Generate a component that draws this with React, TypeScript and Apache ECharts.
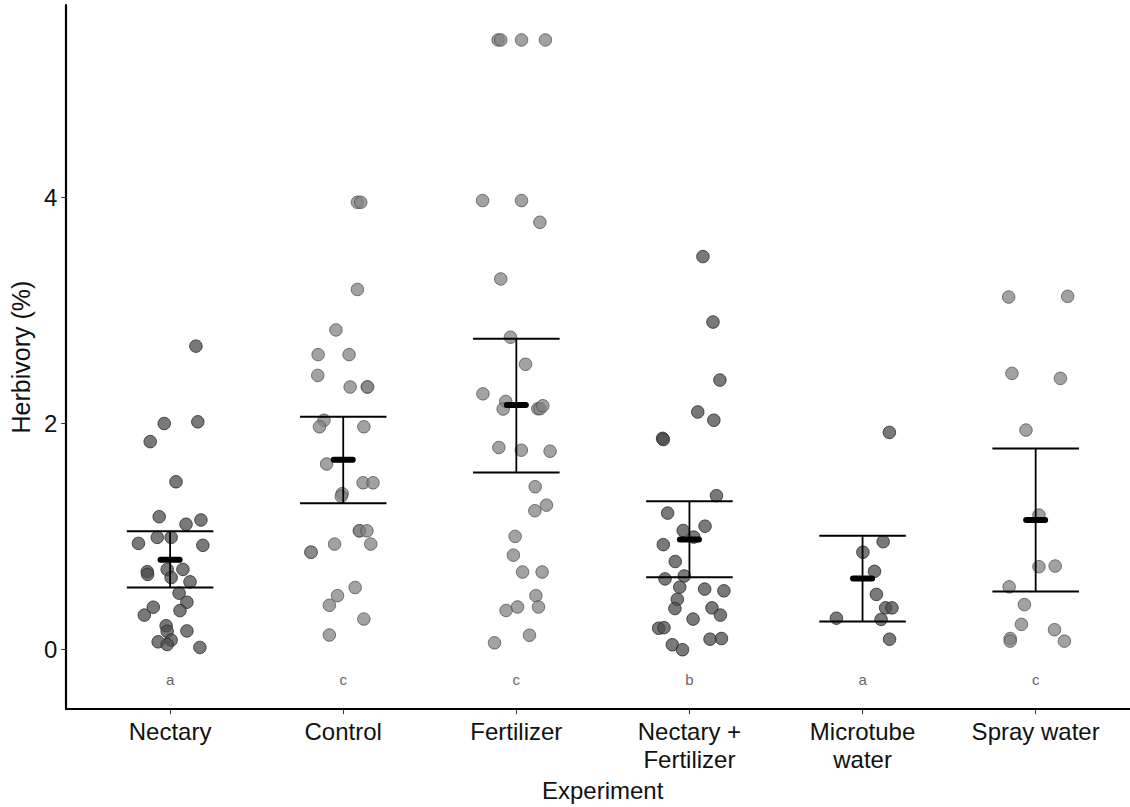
import React, { useEffect, useRef } from "react";
import * as echarts from "echarts";

const categories = ["Nectary", "Control", "Fertilizer", "Nectary +\nFertilizer", "Microtube\nwater", "Spray water"];
const letters = ["a", "c", "c", "b", "a", "c"];
const darkGroup = [true, false, false, true, true, false];

const means = [0.795, 1.68, 2.163, 0.975, 0.629, 1.147];
const lowers = [0.55, 1.295, 1.566, 0.64, 0.25, 0.515];
const uppers = [1.048, 2.06, 2.75, 1.313, 1.007, 1.78];

const nectaryVals = [2.684, 2.0, 2.015, 1.84, 1.485, 1.176, 1.109, 1.147, 0.993, 0.993, 0.94, 0.923, 0.69, 0.666, 0.71, 0.71, 0.638, 0.6, 0.5, 0.42, 0.376, 0.346, 0.306, 0.212, 0.163, 0.166, 0.07, 0.085, 0.046, 0.02];
const nectaryJit = [0.149, -0.034, 0.16, -0.115, 0.034, -0.063, 0.092, 0.178, -0.074, 0.006, -0.183, 0.189, -0.132, -0.13, -0.017, 0.074, 0.006, 0.115, 0.052, 0.097, -0.097, 0.057, -0.149, -0.023, -0.017, 0.097, -0.069, 0.006, -0.017, 0.172];

const controlVals = [3.956, 3.956, 3.185, 2.827, 2.609, 2.609, 2.425, 2.323, 2.323, 2.323, 2.029, 1.971, 1.971, 1.642, 1.476, 1.476, 1.38, 1.356, 1.051, 1.051, 1.051, 0.934, 0.934, 0.862, 0.862, 0.55, 0.478, 0.393, 0.271, 0.13];
const controlJit = [0.082, 0.101, 0.082, -0.042, -0.145, 0.034, -0.147, 0.04, 0.139, 0.141, -0.111, -0.137, 0.119, -0.096, 0.115, 0.172, -0.006, -0.011, 0.093, 0.095, 0.137, -0.05, 0.159, -0.187, -0.185, 0.069, -0.033, -0.08, 0.119, -0.08];

const fertVals = [5.391, 5.391, 5.391, 5.391, 3.971, 3.971, 3.779, 3.278, 2.763, 2.524, 2.262, 2.195, 2.128, 2.131, 2.131, 2.157, 1.788, 1.764, 1.755, 1.441, 1.278, 1.229, 1.002, 0.836, 0.687, 0.687, 0.478, 0.347, 0.378, 0.378, 0.128, 0.061];
const fertJit = [-0.105, -0.09, 0.03, 0.168, -0.195, 0.03, 0.136, -0.09, -0.034, 0.053, -0.193, -0.061, -0.076, 0.124, 0.137, 0.153, -0.101, 0.029, 0.195, 0.109, 0.174, 0.107, -0.007, -0.017, 0.036, 0.149, 0.113, -0.059, 0.007, 0.128, 0.076, -0.126];

const nfVals = [3.476, 2.897, 2.384, 2.102, 2.029, 1.869, 1.858, 1.362, 1.208, 1.054, 1.092, 0.996, 0.929, 0.78, 0.626, 0.652, 0.553, 0.536, 0.521, 0.445, 0.364, 0.37, 0.306, 0.271, 0.19, 0.195, 0.093, 0.099, 0.044, 0.0];
const nfJit = [0.078, 0.136, 0.176, 0.048, 0.141, -0.155, -0.151, 0.156, -0.126, -0.036, 0.09, 0.025, -0.151, -0.082, -0.141, -0.03, -0.056, 0.088, 0.199, -0.07, -0.084, 0.13, 0.179, 0.021, -0.178, -0.147, 0.119, 0.185, -0.099, -0.04];

const microVals = [1.921, 0.955, 0.862, 0.693, 0.489, 0.37, 0.37, 0.279, 0.268, 0.093];
const microJit = [0.155, 0.119, 0.002, 0.069, 0.08, 0.133, 0.17, -0.151, 0.107, 0.156];

const sprayVals = [3.118, 3.124, 2.443, 2.399, 1.942, 1.19, 0.734, 0.74, 0.556, 0.399, 0.224, 0.177, 0.099, 0.076, 0.076];
const sprayJit = [-0.156, 0.185, -0.137, 0.143, -0.056, 0.019, 0.019, 0.113, -0.153, -0.065, -0.082, 0.109, -0.147, -0.147, 0.166];

const groupVals = [nectaryVals, controlVals, fertVals, nfVals, microVals, sprayVals];
const groupJit = [nectaryJit, controlJit, fertJit, nfJit, microJit, sprayJit];

const yTicks = [0, 2, 4];
const xTicks = [1, 2, 3, 4, 5, 6];
const letterY = -0.26;

const FONT = "'Liberation Sans', Arial, Helvetica, sans-serif";

export default function App() {
  const ref = useRef<HTMLDivElement>(null);
  useEffect(() => {
    if (!ref.current) return;
    const chart = echarts.init(ref.current, null, { renderer: "svg" });

    const scatterSeries = groupVals.map((vals, gi) => ({
      type: "scatter",
      name: categories[gi],
      symbol: "circle",
      symbolSize: 12.5,
      z: 2,
      itemStyle: {
        color: darkGroup[gi] ? "rgba(76,76,76,0.75)" : "rgba(130,130,130,0.74)",
        borderColor: darkGroup[gi] ? "rgba(40,40,40,0.8)" : "rgba(70,70,70,0.7)",
        borderWidth: 1,
        opacity: 1,
      },
      data: vals.map((v, i) => [gi + 1 + groupJit[gi][i], v]),
    }));

    const errData = categories.map((_, i) => [i + 1, lowers[i], uppers[i], means[i]]);

    const option: any = {
      animation: false,
      backgroundColor: "#ffffff",
      grid: { left: 56, right: 0, top: 5, bottom: 87, containLabel: false },
      xAxis: {
        type: "value",
        min: 0.4,
        max: 6.545,
        name: "Experiment",
        nameLocation: "middle",
        nameGap: 67,
        nameTextStyle: { fontFamily: FONT, fontSize: 24, color: "#111", padding: [0, 0, 0, 9] },
        axisLine: { show: true, onZero: false, lineStyle: { color: "#000", width: 2.2 } },
        axisTick: { show: true, customValues: xTicks, length: 5, lineStyle: { color: "#333", width: 1 } },
        axisLabel: {
          customValues: xTicks,
          fontFamily: FONT,
          fontSize: 24,
          color: "#111",
          margin: 8,
          lineHeight: 28,
          formatter: (v: number) => categories[Math.round(v) - 1] ?? "",
        },
        splitLine: { show: false },
      },
      yAxis: {
        type: "value",
        min: -0.525,
        max: 5.7,
        name: "Herbivory (%)",
        nameLocation: "middle",
        nameGap: 31,
        nameTextStyle: { fontFamily: FONT, fontSize: 25, color: "#111" },
        axisLine: { show: true, onZero: false, lineStyle: { color: "#000", width: 2.2 } },
        axisTick: { show: true, customValues: yTicks, length: 5, lineStyle: { color: "#333", width: 1 } },
        axisLabel: { customValues: yTicks, fontFamily: FONT, fontSize: 24, color: "#111", margin: 9 },
        splitLine: { show: false },
      },
      series: [
        ...scatterSeries,
        {
          type: "custom",
          z: 5,
          data: errData,
          renderItem: (params: any, api: any) => {
            const x = api.value(0);
            const lo = api.value(1);
            const hi = api.value(2);
            const m = api.value(3);
            const pLo = api.coord([x, lo]);
            const pHi = api.coord([x, hi]);
            const capLoL = api.coord([x - 0.25, lo]);
            const capLoR = api.coord([x + 0.25, lo]);
            const capHiL = api.coord([x - 0.25, hi]);
            const capHiR = api.coord([x + 0.25, hi]);
            const mL = api.coord([x - 0.055, m]);
            const mR = api.coord([x + 0.055, m]);
            const st = { stroke: "#000", lineWidth: 2, fill: "none" };
            return {
              type: "group",
              children: [
                { type: "line", shape: { x1: pLo[0], y1: pLo[1], x2: pHi[0], y2: pHi[1] }, style: { ...st, lineWidth: 1.8 } },
                { type: "line", shape: { x1: capLoL[0], y1: capLoL[1], x2: capLoR[0], y2: capLoR[1] }, style: st },
                { type: "line", shape: { x1: capHiL[0], y1: capHiL[1], x2: capHiR[0], y2: capHiR[1] }, style: st },
                { type: "line", shape: { x1: mL[0], y1: mL[1], x2: mR[0], y2: mR[1] }, style: { stroke: "#000", lineWidth: 6, lineCap: "round" } },
              ],
            };
          },
        },
        {
          type: "custom",
          z: 6,
          data: letters.map((l, i) => [i + 1, letterY, l]),
          renderItem: (params: any, api: any) => {
            const p = api.coord([api.value(0), api.value(1)]);
            return {
              type: "text",
              x: p[0],
              y: p[1],
              style: {
                text: letters[params.dataIndex],
                fill: "#666",
                fontSize: 15,
                fontFamily: FONT,
                align: "center",
                verticalAlign: "middle",
              },
            };
          },
        },
      ],
    };
    chart.setOption(option);
    return () => chart.dispose();
  }, []);
  return (
    <div
      ref={ref}
      style={{ position: "fixed", left: 0, top: 0, width: 1130, height: 807, background: "#fff" }}
    />
  );
}
